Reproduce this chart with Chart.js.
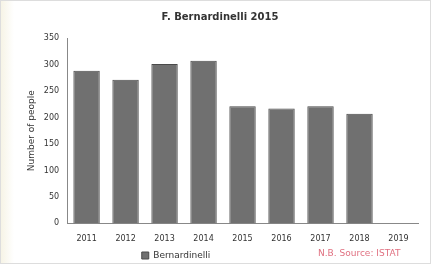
<!DOCTYPE html>
<html>
<head>
<meta charset="utf-8">
<script src="https://cdn.jsdelivr.net/npm/chart.js@4"></script>
<style>
html,body{margin:0;padding:0;background:#fff;}
canvas{display:block;background:linear-gradient(to right,#f6f3e4 0px,#fff 14px);}
</style>
</head>
<body>
<canvas id="c" width="431" height="264"></canvas>
<script>
const categories = ["2011","2012","2013","2014","2015","2016","2017","2018","2019"];
const seriesName = "Bernardinelli";
const values = [288, 271, 301, 307, 221, 217, 221, 207, null];
const titleText = "F. Bernardinelli 2015";
const yTitle = "Number of people";
const sourceText = "N.B. Source: ISTAT";

const sourcePlugin = {
  id: 'sourceText',
  afterLayout(chart) {
    if (chart.legend) { chart.legend.left -= 44; chart.legend.right -= 44; }
  },
  afterDraw(chart) {
    const ctx = chart.ctx;
    ctx.save();
    ctx.font = '9px "DejaVu Sans"';
    ctx.fillStyle = '#e07080';
    ctx.textAlign = 'left';
    ctx.textBaseline = 'middle';
    ctx.fillText(sourceText, 318, 254);
    ctx.strokeStyle = '#ddd';
    ctx.lineWidth = 1;
    ctx.strokeRect(0.5, 0.5, chart.width - 1, chart.height - 1);
    ctx.restore();
  }
};

new Chart(document.getElementById('c'), {
  type: 'bar',
  data: {
    labels: categories,
    datasets: [{
      label: seriesName,
      data: values,
      backgroundColor: '#707070',
      borderColor: '#4a4a4a',
      borderWidth: 1,
      barPercentage: 0.72,
      categoryPercentage: 0.94
    }]
  },
  options: {
    responsive: false,
    animation: false,
    layout: { padding: { left: 22, right: 13, top: 5, bottom: -6 } },
    plugins: {
      title: { display: true, text: titleText, color: '#333', font: { family: 'DejaVu Sans', size: 10, weight: 'bold' }, padding: { top: 6, bottom: 15 } },
      legend: { display: true, position: 'bottom', align: 'center',
        labels: { boxWidth: 7, boxHeight: 7, color: '#333', font: { family: 'DejaVu Sans', size: 9 }, padding: 4 } },
      tooltip: { enabled: false }
    },
    scales: {
      x: {
        grid: { display: false, drawTicks: true },
        border: { color: '#888' },
        ticks: { color: '#333', font: { family: 'DejaVu Sans', size: 8 }, maxRotation: 0, padding: 3 }
      },
      y: {
        min: 0, max: 350,
        ticks: { stepSize: 50, color: '#333', font: { family: 'DejaVu Sans', size: 8 } },
        grid: { display: false, drawTicks: true, tickLength: 5 },
        border: { color: '#888' },
        title: { display: true, text: yTitle, color: '#333', font: { family: 'DejaVu Sans', size: 9 } }
      }
    }
  },
  plugins: [sourcePlugin]
});
</script>
</body>
</html>
